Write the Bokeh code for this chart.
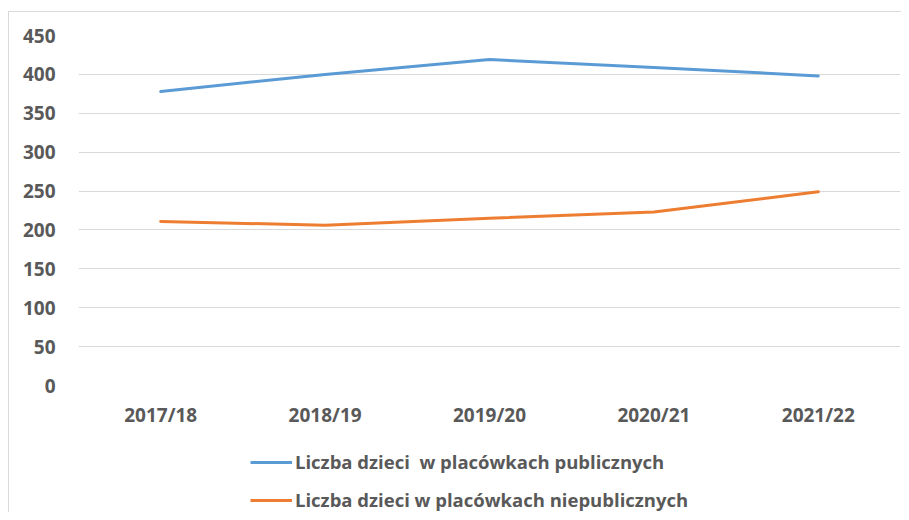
from bokeh.plotting import figure
from bokeh.layouts import column
from bokeh.models import FactorRange, Range1d, FixedTicker, Legend, LegendItem
from bokeh.embed import file_html
from bokeh.resources import INLINE

categories = ["2017/18", "2018/19", "2019/20", "2020/21", "2021/22"]
public_values = [378, 400, 419, 409, 398]
nonpublic_values = [211, 206, 215, 223, 249]
series_names = ["Liczba dzieci  w placówkach publicznych",
                "Liczba dzieci w placówkach niepublicznych"]
series_colors = ["#5B9BD5", "#ED7D31"]
y_ticks = [0, 50, 100, 150, 200, 250, 300, 350, 400, 450]

FONT = "Open Sans"
TEXT_COLOR = "#595959"
border = "1px solid #D9D9D9"

# main chart
p = figure(
    x_range=FactorRange(factors=categories),
    y_range=Range1d(0, 450),
    width=892, height=418,
    output_backend="svg", toolbar_location=None,
    min_border_left=69, min_border_right=1,
    min_border_top=23, min_border_bottom=44,
)
p.outline_line_color = None
p.background_fill_color = "white"
p.border_fill_color = "white"

p.line(categories, public_values, line_color=series_colors[0], line_width=3,
       line_cap="round", line_join="round")
p.line(categories, nonpublic_values, line_color=series_colors[1], line_width=3,
       line_cap="round", line_join="round")

p.xgrid.grid_line_color = None
p.ygrid.grid_line_color = "#D9D9D9"
p.ygrid.grid_line_width = 1

p.yaxis.ticker = FixedTicker(ticks=y_ticks)
for ax in (p.xaxis[0], p.yaxis[0]):
    ax.axis_line_color = None
    ax.major_tick_line_color = None
    ax.minor_tick_line_color = None
    ax.major_label_text_color = TEXT_COLOR
    ax.major_label_text_font = FONT
    ax.major_label_text_font_style = "bold"
    ax.major_label_text_font_size = "19px"
p.yaxis.major_label_standoff = 17
p.xaxis.major_label_standoff = 10

# legend strip below the chart (same series, drawn outside its visible range)
q = figure(
    x_range=FactorRange(factors=categories), y_range=Range1d(-2, -1),
    width=892, height=82,
    x_axis_location=None, y_axis_location=None,
    output_backend="svg", toolbar_location=None,
    min_border_left=0, min_border_right=0,
    min_border_top=0, min_border_bottom=0,
)
q.grid.visible = False
q.outline_line_color = None
q.border_fill_color = "white"
q.background_fill_color = "white"
r1 = q.line(categories, public_values, line_color=series_colors[0], line_width=3)
r2 = q.line(categories, nonpublic_values, line_color=series_colors[1], line_width=3)

legend = Legend(
    items=[LegendItem(label=series_names[0], renderers=[r1]),
           LegendItem(label=series_names[1], renderers=[r2])],
    location=(172, 0),
    orientation="vertical",
    glyph_width=42, glyph_height=20, label_height=20,
    label_standoff=3, spacing=13, padding=0, margin=0,
    border_line_color=None, background_fill_alpha=0,
    label_text_font=FONT, label_text_font_size="18.5px",
    label_text_font_style="bold",
    label_text_color=TEXT_COLOR,
)
q.add_layout(legend, "center")

layout = column(p, q, spacing=0,
                styles={"margin-left": "8px", "margin-top": "11px",
                        "border-left": border, "border-top": border})

open("out.html", "w").write(file_html(layout, INLINE))
